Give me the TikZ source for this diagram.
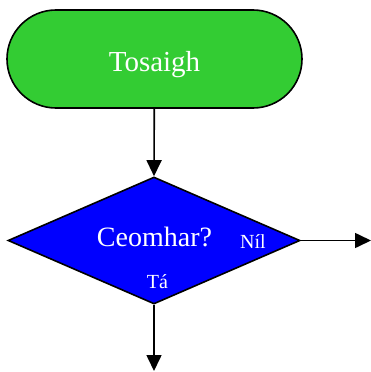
\documentclass[tikz,border=0pt]{standalone}
\usepackage{fontspec}
\setmainfont{Liberation Serif}
\usetikzlibrary{shapes.geometric,arrows.meta}

\definecolor{startgreen}{RGB}{51,204,51}
\definecolor{decblue}{RGB}{0,0,255}

\begin{document}
\begin{tikzpicture}[x=1pt,y=-1pt,
        term/.style={draw=black,line width=1.6pt,fill=startgreen,text=white,
            minimum width=295pt,minimum height=98pt,rounded corners=49pt,
            text height=24pt,text depth=0pt,
            font=\fontsize{29}{30}\selectfont},
        decide/.style={draw=black,line width=1.6pt,fill=decblue,text=white,
            diamond,aspect=2.3,inner sep=0pt,minimum width=292pt,minimum height=127pt,
            font=\fontsize{28}{30}\selectfont},
        lbl/.style={text=white,inner sep=0pt,font=\fontsize{20}{22}\selectfont},
        flow/.style={line width=1.6pt,-{Triangle[width=15pt,length=16pt]}}]
        \useasboundingbox (0,0) rectangle (371,372);

        \node[term] (start) at (154.5,59) {Tosaigh};
        \node[decide] (dec) at (154,240.5) {};
        \node[text=white,inner sep=0pt,font=\fontsize{28}{30}\selectfont] (q) at (154.5,237) {Ceomhar?};
        \node[lbl] (no) at (253,242) {Níl};
        \node[lbl] (yes) at (157.5,282) {Tá};

        \coordinate (outno) at (371,240.5);
        \coordinate (outyes) at (154,371);

        \draw[flow] (start) -- (dec.north);
        \draw[flow] (dec.east) -- (outno);
        \draw[flow] (dec.south) -- (outyes);
    \end{tikzpicture}
\end{document}
